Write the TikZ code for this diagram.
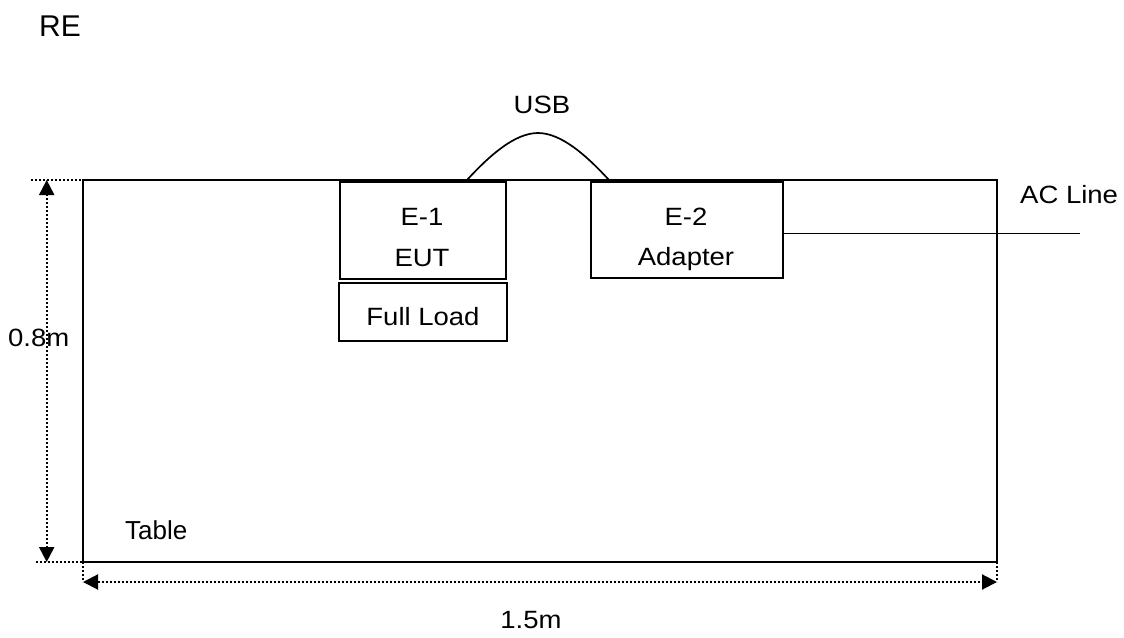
\documentclass[tikz,border=0pt]{standalone}
\usepackage{fontspec}
\setmainfont{Liberation Sans}
\usetikzlibrary{arrows.meta}
\newcommand{\strtxt}[1]{\scalebox{1.1}[1]{#1}}
\begin{document}
\begin{tikzpicture}[x=1pt,y=-1pt,
  lbl/.style={font=\fontsize{25}{30}\selectfont, inner sep=0pt},
  box/.style={draw, line width=1.4pt, inner sep=0pt},
  dotline/.style={line width=2pt, dash pattern=on 2pt off 2pt},
  dimarrow/.style={dotline, {Triangle[length=15pt,width=15pt]}-{Triangle[length=15pt,width=15pt]}},
]
\useasboundingbox (0,0) rectangle (1124,637);
% dimension helpers
\coordinate (extTL) at (31,180);
\coordinate (extTR) at (100,180);
\coordinate (extBL) at (36,562);
\coordinate (extBR) at (106,562);
\coordinate (vt) at (46.7,180);
\coordinate (vb) at (46.7,562);
\coordinate (tl) at (83,562);
\coordinate (tr) at (997,562);
\coordinate (hl) at (83,582);
\coordinate (hr) at (997,582);
\draw[dotline] (extTL) -- (extTR);
\draw[dotline] (extBL) -- (extBR);
\draw[dotline] (tl) -- (hl);
\draw[dotline] (tr) -- (hr);
% table
\node[draw, line width=2pt, minimum width=914pt, minimum height=382pt, inner sep=0pt] (table) at (540,371) {};
\draw[dimarrow] (vb) -- (vt);
\draw[dimarrow] (hl) -- (hr);
% boxes
\node[box, minimum width=166pt, minimum height=97pt] (e1) at (423,230.5) {};
\node[box, minimum width=168pt, minimum height=58pt] (load) at (423,312) {};
\node[box, minimum width=192pt, minimum height=96pt] (e2) at (687,230) {};
% labels
\node[lbl, anchor=base] (e1a) at (422,225) {\strtxt{E-1}};
\node[lbl, anchor=base] (e1b) at (422,266) {\strtxt{EUT}};
\node[lbl, anchor=base] (loadt) at (423,325) {\strtxt{Full Load}};
\node[lbl, anchor=base] (e2a) at (686,225) {\strtxt{E-2}};
\node[lbl, anchor=base] (e2b) at (686,265) {\strtxt{Adapter}};
\node[lbl, anchor=base] (usbt) at (542,113) {\strtxt{USB}};
\node[lbl, anchor=base west] (act) at (1020,203) {\strtxt{AC Line}};
\node[lbl, anchor=base west] (ht) at (8,346) {\strtxt{0.8m}};
\node[lbl, anchor=base] (wt) at (531,628) {\strtxt{1.5m}};
\node[font=\fontsize{26}{30}\selectfont, inner sep=0pt, anchor=base west] (tt) at (125,539) {Table};
\node[font=\fontsize{30}{36}\selectfont, inner sep=0pt, anchor=base west] (re) at (39,36) {RE};
% USB cable
\coordinate (usbL) at (467,180);
\coordinate (usbP) at (538,133);
\coordinate (usbR) at (609,180);
\draw[line width=1.7pt] (usbL) .. controls (490,155) and (515,133) .. (usbP) .. controls (561,133) and (586,155) .. (usbR);
% AC line
\coordinate (acEnd) at (1080,233);
\draw[line width=1pt] ([yshift=-3pt]e2.east) -- (acEnd);
\end{tikzpicture}
\end{document}
